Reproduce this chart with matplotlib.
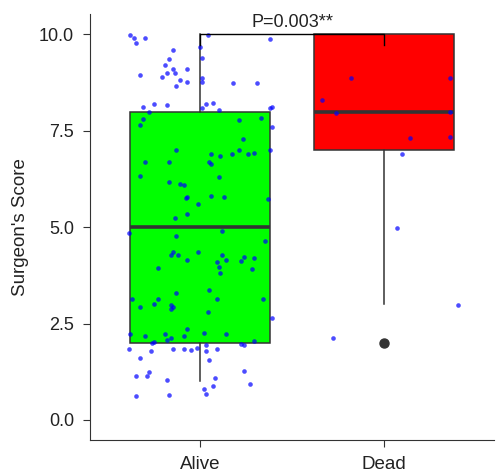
import matplotlib
matplotlib.use("Agg")
import matplotlib.pyplot as plt

plt.rcParams['font.family'] = ['Liberation Sans', 'DejaVu Sans']

groups = ['Alive', 'Dead']
box_colors = ['#00ff00', '#ff0000']

# box summary
box_q1 = [2.0, 7.0]
box_med = [5.0, 8.0]
box_q3 = [8.0, 10.0]
box_lo = [1.0, 3.0]
box_hi = [10.0, 10.0]
box_fliers = [[], [2.0]]

# jittered observations: horizontal offset from the group centre, score
alive_dx = [-0.38, -0.36, -0.35, -0.30, 0.04, 0.38, 0.0, -0.15, 0.01, -0.17,
            -0.19, -0.15, -0.07, -0.33, -0.18, -0.14, -0.21, -0.11, -0.07, -0.13,
            0.01, 0.01, 0.18, 0.31, -0.31, -0.25, -0.18, 0.03, 0.07, 0.01,
            0.10, -0.28, 0.38, 0.39, -0.31, -0.33, 0.21, 0.33, 0.39, 0.23,
            -0.13, 0.21, 0.38, 0.06, 0.11, 0.17, 0.26, 0.29, -0.30, -0.17,
            0.05, 0.06, -0.33, 0.10, -0.17, -0.11, -0.09, 0.06, 0.13, -0.08,
            -0.07, 0.37, -0.01, -0.07, -0.14, -0.39, 0.12, -0.13, 0.35, -0.15,
            -0.16, -0.12, -0.01, 0.12, 0.24, 0.29, -0.07, 0.09, 0.14, 0.22,
            0.10, -0.23, 0.28, 0.11, 0.05, -0.13, -0.37, -0.23, 0.09, 0.34,
            -0.33, -0.25, -0.16, -0.15, -0.16, 0.04, 0.39, -0.38, -0.30, -0.19,
            -0.16, -0.18, -0.07, -0.09, 0.02, 0.14, -0.25, -0.26, 0.03, 0.22,
            0.24, 0.29, -0.39, -0.27, -0.15, -0.09, -0.05, -0.02, 0.03, 0.09,
            -0.33, 0.05, -0.28, -0.35, -0.29, -0.18, 0.08, 0.24, 0.27, 0.07,
            0.02, 0.03, -0.35, -0.17]
alive_y = [9.99, 9.91, 9.78, 9.91, 9.99, 9.87, 9.67, 9.60, 9.39, 9.35,
           9.20, 9.10, 9.11, 8.94, 8.99, 8.99, 8.89, 8.81, 8.77, 8.66,
           8.88, 8.77, 8.74, 8.74, 8.13, 8.19, 8.17, 8.19, 8.23, 8.10,
           8.05, 7.98, 8.10, 8.13, 7.81, 7.65, 7.78, 7.84, 7.61, 7.28,
           6.99, 6.99, 7.00, 6.90, 6.85, 6.90, 6.90, 6.93, 6.68, 6.70,
           6.68, 6.65, 6.32, 6.30, 6.16, 6.12, 6.10, 5.82, 5.79, 5.75,
           5.79, 5.73, 5.61, 5.33, 5.23, 4.85, 4.91, 4.78, 4.65, 4.35,
           4.27, 4.27, 4.36, 4.28, 4.23, 4.21, 4.15, 4.09, 4.15, 4.12,
           3.98, 3.93, 3.91, 3.80, 3.36, 3.30, 3.14, 3.13, 3.15, 3.13,
           2.94, 3.01, 2.98, 2.94, 2.87, 2.79, 2.64, 2.22, 2.17, 2.22,
           2.13, 2.07, 2.36, 2.17, 2.26, 2.22, 2.01, 1.99, 1.95, 1.96,
           1.95, 2.05, 1.83, 1.79, 1.83, 1.84, 1.82, 1.87, 1.80, 1.85,
           1.61, 1.56, 1.24, 1.15, 1.15, 1.04, 1.08, 1.26, 0.92, 0.87,
           0.81, 0.68, 0.63, 0.64]
dead_dx = [-0.18, 0.36, -0.34, -0.26, 0.36, 0.14, 0.36, 0.10, 0.07, 0.40, -0.28]
dead_y = [8.87, 8.88, 8.29, 7.97, 7.98, 7.31, 7.35, 6.90, 4.99, 2.98, 2.12]

p_label = 'P=0.003**'
bracket_y = 10.02
bracket_tick = 0.3

fig = plt.figure(figsize=(4.96, 4.74), dpi=100)
ax = fig.add_axes([0.1815, 0.0717, 0.815, 0.898])

stats = []
for i, g in enumerate(groups):
    stats.append(dict(label=g, med=box_med[i], q1=box_q1[i], q3=box_q3[i],
                      whislo=box_lo[i], whishi=box_hi[i], fliers=box_fliers[i]))

dark = '#333333'
bp = ax.bxp(stats, positions=[1, 2], widths=0.76, patch_artist=True,
            showcaps=False,
            boxprops=dict(edgecolor=dark, linewidth=1.1),
            medianprops=dict(color=dark, linewidth=2.6),
            whiskerprops=dict(color=dark, linewidth=1.1),
            flierprops=dict(marker='o', markerfacecolor=dark, markeredgecolor=dark,
                            markersize=6.5))
for patch, c in zip(bp['boxes'], box_colors):
    patch.set_facecolor(c)

ax.scatter([1 + d for d in alive_dx], alive_y, s=11, color='#0000ff', alpha=0.7,
           linewidths=0, zorder=5)
ax.scatter([2 + d for d in dead_dx], dead_y, s=11, color='#0000ff', alpha=0.7,
           linewidths=0, zorder=5)

# significance bracket
ax.plot([1, 1, 2, 2], [bracket_y - bracket_tick, bracket_y, bracket_y, bracket_y - bracket_tick],
        color='black', linewidth=1.0, zorder=6, clip_on=False)
ax.text(1.5, 10.18, p_label, ha='center', va='baseline', fontsize=13,
        color='#222222')

ax.set_xlim(0.4, 2.6)
ax.set_ylim(-0.52, 10.52)
ax.set_yticks([0, 2.5, 5, 7.5, 10])
ax.set_yticklabels(['0.0', '2.5', '5.0', '7.5', '10.0'])
ax.set_xticks([1, 2])
ax.set_xticklabels(groups)
ax.set_ylabel("Surgeon's Score", fontsize=13.5, color='#222222')
ax.yaxis.set_label_coords(-0.152, 0.5)

for s in ['top', 'right']:
    ax.spines[s].set_visible(False)
for s in ['left', 'bottom']:
    ax.spines[s].set_color('#333333')
    ax.spines[s].set_linewidth(0.8)
ax.tick_params(axis='y', labelsize=13, colors='#333333', length=5, width=0.8, pad=6.5)
ax.tick_params(axis='x', labelsize=13.5, colors='#333333', length=5, width=0.8, pad=6.5)
for lab in ax.get_xticklabels() + ax.get_yticklabels():
    lab.set_color('#222222')

fig.savefig('out.png', dpi=100)
